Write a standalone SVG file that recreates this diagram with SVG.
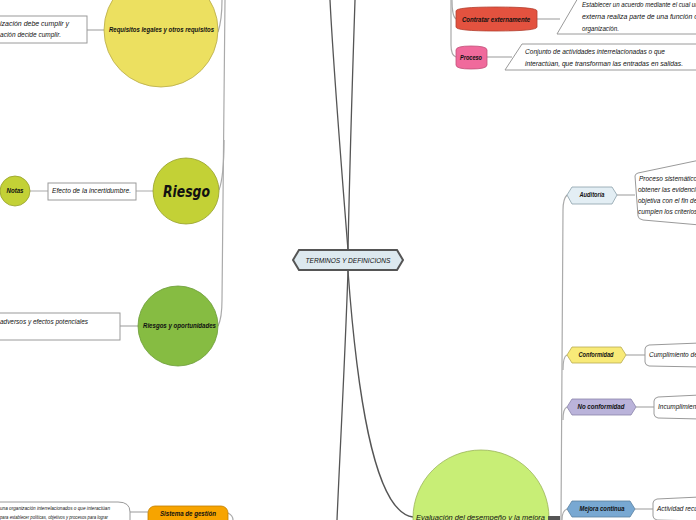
<svg xmlns="http://www.w3.org/2000/svg" width="696" height="520" viewBox="0 0 696 520">
<style>
text{font-family:"Liberation Sans",Arial,sans-serif;font-style:italic;fill:#111}
.t{font-size:6.5px}
.b{font-size:6.5px;font-weight:bold}
.box{fill:#fff;stroke:#9a9a9a;stroke-width:1}
.c1{fill:none;stroke:#555;stroke-width:1.3}
.c2{fill:none;stroke:#aaa;stroke-width:1.2}
</style>
<rect width="696" height="520" fill="#fff"/>
<g id="connectors">
<path class="c1" d="M348,250 C340,150 333,60 330,0"/>
<path class="c1" d="M348,250 C350,150 353,60 355,0"/>
<path class="c1" d="M348,271 C345,360 340,450 337,520"/>
<path class="c1" d="M348,271 C356,380 372,512 413,517"/>
<path class="c2" d="M225,0 L222,300 C222,315 220,322 218,326"/>
<path class="c2" d="M222,0 C222,18 220,26 218,32"/>
<path class="c2" d="M224,140 C224,170 222,182 219,190"/>
<path class="c2" d="M452,0 C452,10 453,17 456,19"/>
<path class="c2" d="M451,0 L451,45 C451,52 453,56 456,57"/>
<path class="c2" d="M561,520 L563,210 C563,200 565,197 567,195"/>
<path class="c2" d="M563,370 C563,360 564,356 567,355"/>
<path class="c2" d="M563,420 C563,412 564,408 567,407"/>
<path class="c2" d="M562,520 C562,513 564,510 567,509"/>
<path class="c2" d="M228,513 C232,515 233,518 233,520"/>
<path class="c2" d="M87,30 H105"/>
<path class="c2" d="M30,191 H48 M136,191 H153"/>
<path class="c2" d="M120,326 H138"/>
<path class="c2" d="M130,512 H148"/>
<path class="c2" d="M537,19 H560"/>
<path class="c2" d="M487,57 H512"/>
<path class="c2" d="M617,195 H635"/>
<path class="c2" d="M626,355 H645"/>
<path class="c2" d="M636,407 H654"/>
<path class="c2" d="M635,509 H653"/>
</g>
<g id="center">
<polygon points="293,260 299,250 397,250 403,260 397,270 299,270" fill="#dde9ef" stroke="#555" stroke-width="2"/>
<text class="t" x="348" y="263" text-anchor="middle" textLength="85" lengthAdjust="spacingAndGlyphs">TERMINOS Y DEFINICIONS</text>
</g>
<g id="requisitos">
<circle cx="161" cy="30" r="57" fill="#ece060" stroke="#b8ab48" stroke-width="0.8"/>
<text class="b" x="109" y="32" textLength="105" lengthAdjust="spacingAndGlyphs">Requisitos legales y otros requisitos</text>
</g>
<g id="requisitos-def">
<rect class="box" x="-5" y="16" width="92" height="27"/>
<text class="t" x="0" y="26" textLength="69" lengthAdjust="spacingAndGlyphs">ización debe cumplir y</text>
<text class="t" x="0" y="37" textLength="61" lengthAdjust="spacingAndGlyphs">ación decide cumplir.</text>
</g>
<g id="riesgo">
<circle cx="186" cy="191" r="33" fill="#c3d136" stroke="#95a02a" stroke-width="0.8"/>
<text x="163" y="197" style="font-family:'DejaVu Sans',sans-serif;font-size:16px;font-weight:bold" textLength="47" lengthAdjust="spacingAndGlyphs">Riesgo</text>
</g>
<g id="riesgo-def">
<rect class="box" x="48" y="183" width="88" height="17"/>
<text class="t" x="52" y="193" textLength="79" lengthAdjust="spacingAndGlyphs">Efecto de la incertidumbre.</text>
</g>
<g id="notas">
<circle cx="15" cy="191" r="15" fill="#c3d136" stroke="#95a02a" stroke-width="0.8"/>
<text class="b" x="15" y="193" text-anchor="middle" textLength="17" lengthAdjust="spacingAndGlyphs">Notas</text>
</g>
<g id="riesgos-oportunidades">
<circle cx="178" cy="326" r="40" fill="#86bc42" stroke="#6a9a35" stroke-width="0.8"/>
<text class="b" x="143" y="328" textLength="73" lengthAdjust="spacingAndGlyphs">Riesgos y oportunidades</text>
</g>
<g id="riesgos-oportunidades-def">
<rect class="box" x="-5" y="313" width="125" height="27"/>
<text class="t" x="0" y="324" textLength="88" lengthAdjust="spacingAndGlyphs">adversos y efectos potenciales</text>
</g>
<g id="sistema-gestion">
<rect x="148" y="506" width="80" height="22" rx="7" fill="#f7a400" stroke="#c07f00" stroke-width="0.8"/>
<text class="b" x="160" y="516" textLength="56" lengthAdjust="spacingAndGlyphs">Sistema de gestión</text>
</g>
<g id="sistema-gestion-def">
<path class="box" d="M-5,502 H118 Q130,502 130,512 V525 H-5 Z"/>
<text x="0" y="510" style="font-size:4.5px" textLength="110" lengthAdjust="spacingAndGlyphs">una organización interrelacionados o que interactúan</text>
<text x="0" y="519" style="font-size:4.5px" textLength="108" lengthAdjust="spacingAndGlyphs">para establecer políticas, objetivos y procesos para lograr</text>
</g>
<g id="contratar">
<path d="M456,11 Q456,7 496,7 Q537,7 537,11 V27 Q537,31 496,31 Q456,31 456,27 Z" fill="#e3523f" stroke="#b34030" stroke-width="0.8"/>
<text class="b" x="462" y="22" textLength="68" lengthAdjust="spacingAndGlyphs">Contratar externamente</text>
</g>
<g id="contratar-def">
<polygon class="box" points="578,-2 700,-2 700,34 557,34"/>
<text class="t" x="582" y="7" textLength="120" lengthAdjust="spacingAndGlyphs">Establecer un acuerdo mediante el cual una</text>
<text class="t" x="582" y="19" textLength="116" lengthAdjust="spacingAndGlyphs">externa realiza parte de una función o</text>
<text class="t" x="582" y="31" textLength="37" lengthAdjust="spacingAndGlyphs">organización.</text>
</g>
<g id="proceso">
<path d="M456,50 Q456,46 471,46 Q487,46 487,50 V65 Q487,69 471,69 Q456,69 456,65 Z" fill="#f06a9c" stroke="#c05078" stroke-width="0.8"/>
<text class="b" x="471" y="60" text-anchor="middle" textLength="22" lengthAdjust="spacingAndGlyphs">Proceso</text>
</g>
<g id="proceso-def">
<polygon class="box" points="522,44 700,44 700,70 505,70"/>
<text class="t" x="525" y="54" textLength="140" lengthAdjust="spacingAndGlyphs">Conjunto de actividades interrelacionadas o que</text>
<text class="t" x="525" y="66" textLength="158" lengthAdjust="spacingAndGlyphs">interactúan, que transforman las entradas en salidas.</text>
</g>
<g id="evaluacion">
<circle cx="481" cy="518" r="68" fill="#c8ee76" stroke="#9ab45a" stroke-width="0.8"/>
<text class="t" x="416" y="520" style="font-size:7.5px" textLength="129" lengthAdjust="spacingAndGlyphs">Evaluación del desempeño y la mejora</text>
<rect x="548" y="516" width="12" height="4" fill="#555"/>
</g>
<g id="auditoria">
<polygon points="567,195 572,187 612,187 617,195 612,204 572,204" fill="#e3eef4" stroke="#8aa0aa" stroke-width="0.8"/>
<text class="b" x="592" y="197" text-anchor="middle" textLength="25" lengthAdjust="spacingAndGlyphs">Auditoría</text>
</g>
<g id="auditoria-def">
<path class="box" d="M635,176 Q635,174 638,173 L700,160 V225 L643,220 Q638,219 638,216 Z"/>
<text class="t" x="639" y="181">Proceso sistemático,</text>
<text class="t" x="638" y="192">obtener las evidencias</text>
<text class="t" x="638" y="203">objetiva con el fin de</text>
<text class="t" x="638" y="214">cumplen los criterios</text>
</g>
<g id="conformidad">
<polygon points="567,355 572,347 621,347 626,355 621,363 572,363" fill="#f8ea78" stroke="#b8ab50" stroke-width="0.8"/>
<text class="b" x="596" y="357" text-anchor="middle" textLength="35" lengthAdjust="spacingAndGlyphs">Conformidad</text>
</g>
<g id="conformidad-def">
<path class="box" d="M645,349 Q645,346 649,345 L700,343 V367 L649,366 Q645,365 645,362 Z"/>
<text class="t" x="649" y="357">Cumplimiento de un requisito.</text>
</g>
<g id="no-conformidad">
<polygon points="567,407 572,399 631,399 636,407 631,415 572,415" fill="#bab3da" stroke="#8a84aa" stroke-width="0.8"/>
<text class="b" x="601" y="409" text-anchor="middle" textLength="47" lengthAdjust="spacingAndGlyphs">No conformidad</text>
</g>
<g id="no-conformidad-def">
<path class="box" d="M654,401 Q654,398 658,397 L700,395 V419 L658,418 Q654,417 654,414 Z"/>
<text class="t" x="658" y="409">Incumplimiento de un requisito.</text>
</g>
<g id="mejora">
<polygon points="567,509 572,501 630,501 635,509 630,517 572,517" fill="#78a8d2" stroke="#5a80a0" stroke-width="0.8"/>
<text class="b" x="602" y="511" text-anchor="middle" textLength="45" lengthAdjust="spacingAndGlyphs">Mejora continua</text>
</g>
<g id="mejora-def">
<path class="box" d="M653,503 Q653,500 657,499 L700,497 V521 L657,520 Q653,519 653,516 Z"/>
<text class="t" x="657" y="511">Actividad recurrente para mejorar</text>
</g>
</svg>
